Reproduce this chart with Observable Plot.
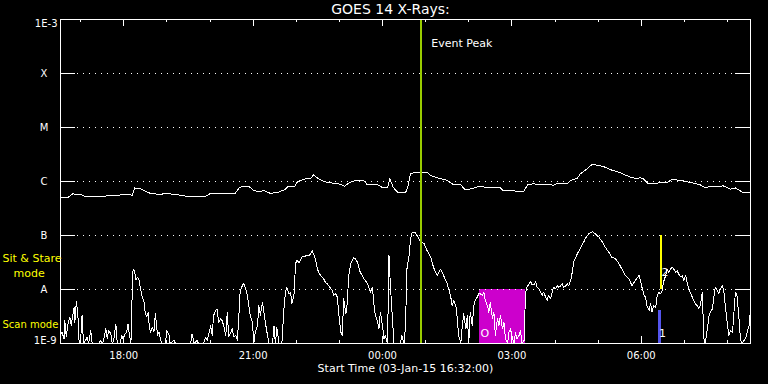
<!DOCTYPE html>
<html><head><meta charset="utf-8">
<script src="https://cdn.jsdelivr.net/npm/d3@7"></script>
<script src="https://cdn.jsdelivr.net/npm/@observablehq/plot@0.6"></script>
<style>
html,body{margin:0;padding:0;background:#000;}
#chart{width:768px;height:384px;overflow:hidden;}
</style></head><body><div id="chart"></div>
<script>
// ---- data (minutes since start time, log10 flux in W/m^2) ----
const startTime = "2015-01-03T16:32:00Z";
const spanMinutes = 960;
const chartTitle = "GOES 14 X-Rays:";
const xCaption = "Start Time (03-Jan-15 16:32:00)";
const levelValues = [1e-9, 1e-8, 1e-7, 1e-6, 1e-5, 1e-4, 1e-3];
const levelLabels = ["1E-9", "A", "B", "C", "M", "X", "1E-3"];
const majorTickTimes = ["2015-01-03T18:00:00Z", "2015-01-03T21:00:00Z", "2015-01-04T00:00:00Z", "2015-01-04T03:00:00Z", "2015-01-04T06:00:00Z"];
const majorTickLabels = ["18:00", "21:00", "00:00", "03:00", "06:00"];

// long channel (1-8 A)
const longChannel = [[0,-6.29],[11,-6.29],[17,-6.23],[28,-6.24],[35,-6.28],[56,-6.28],[70,-6.26],[83,-6.25],[97,-6.24],[100,-6.26],
[103,-6.12],[110,-6.13],[120,-6.19],[125,-6.22],[139,-6.24],[146,-6.22],[160,-6.24],[174,-6.27],[202,-6.27],[209,-6.22],
[243,-6.22],[249,-6.11],[255,-6.09],[262,-6.09],[269,-6.17],[278,-6.19],[282,-6.16],[292,-6.22],[303,-6.20],[312,-6.15],
[317,-6.09],[326,-6.09],[330,-6.00],[341,-5.95],[348,-5.94],[352,-5.88],[358,-5.94],[366,-6.00],[383,-6.04],[390,-6.05],
[395,-6.09],[402,-6.02],[408,-5.99],[422,-5.99],[427,-6.06],[441,-6.06],[449,-6.12],[455,-6.12],[458,-5.95],[463,-6.11],
[469,-6.20],[480,-6.21],[483,-6.11],[487,-5.86],[491,-5.84],[511,-5.84],[515,-5.89],[526,-5.94],[538,-5.98],[547,-6.06],
[557,-6.06],[562,-6.14],[570,-6.14],[580,-6.10],[589,-6.10],[598,-6.12],[612,-6.12],[616,-6.17],[630,-6.17],[636,-6.19],
[644,-6.19],[650,-6.06],[658,-6.04],[664,-6.06],[682,-6.06],[686,-6.07],[691,-6.04],[705,-6.04],[710,-5.98],[719,-5.94],
[723,-5.86],[733,-5.76],[740,-5.68],[747,-5.70],[755,-5.72],[765,-5.78],[779,-5.84],[793,-5.92],[803,-5.95],[806,-5.93],
[811,-5.95],[817,-6.03],[831,-6.03],[835,-6.01],[845,-6.01],[851,-5.96],[863,-5.98],[877,-6.02],[890,-6.06],[897,-6.12],
[904,-6.09],[918,-6.09],[922,-6.08],[932,-6.14],[939,-6.12],[949,-6.20],[960,-6.21]];

// short channel (0.5-4 A); -9 = at/below 1E-9
const shortChannel = [[0,-8.85],[2,-8.79],[5,-8.91],[6,-8.58],[8,-8.88],[10,-8.67],[13,-8.51],[15,-8.67],[17,-8.48],[19,-8.33],
[20,-8.61],[22,-8.22],[24,-8.42],[26,-9],[28,-8.94],[30,-8.48],[32,-9],[35,-8.94],[37,-8.88],[39,-9],
[42,-8.76],[44,-9],[53,-9],[56,-8.94],[58,-9],[60,-8.94],[63,-8.73],[65,-8.91],[67,-8.76],[70,-8.82],
[72,-9],[74,-8.94],[77,-8.64],[79,-9],[83,-9],[85,-8.85],[87,-8.91],[90,-8.82],[92,-8.79],[94,-8.64],
[96,-8.85],[98,-9],[99,-8.39],[101,-7.62],[103,-7.65],[105,-7.83],[107,-7.77],[109,-7.80],[110,-7.89],[112,-8.02],
[114,-8.17],[116,-8.20],[118,-8.45],[120,-8.51],[122,-8.42],[123,-8.61],[125,-8.79],[128,-8.70],[130,-8.79],[132,-8.45],
[135,-8.85],[137,-8.79],[139,-8.91],[141,-9],[146,-9],[148,-8.76],[151,-8.85],[152,-9],[158,-8.94],[160,-9],
[181,-9],[183,-8.82],[186,-9],[190,-8.94],[192,-9],[199,-9],[202,-8.88],[204,-8.94],[206,-8.85],[209,-8.67],
[211,-8.85],[213,-8.48],[216,-8.39],[218,-8.36],[220,-8.61],[223,-8.54],[225,-8.58],[227,-8.67],[230,-8.85],[232,-8.42],
[234,-8.88],[237,-8.79],[239,-8.73],[241,-8.88],[244,-8.85],[246,-8.94],[248,-8.54],[250,-8.02],[253,-7.93],[255,-7.88],
[257,-7.96],[260,-8.11],[262,-8.30],[264,-8.48],[267,-8.61],[269,-9],[271,-8.79],[274,-8.67],[276,-8.30],[278,-8.48],
[281,-8.24],[283,-8.42],[285,-8.61],[288,-8.85],[290,-9],[295,-9],[297,-8.67],[299,-9],[301,-8.70],[304,-9],
[308,-9],[311,-8.33],[313,-8.05],[315,-7.96],[318,-8.08],[320,-8.05],[322,-8.26],[325,-8.08],[327,-7.52],[329,-7.46],
[332,-7.50],[334,-7.46],[336,-7.40],[341,-7.38],[343,-7.36],[346,-7.37],[348,-7.34],[350,-7.28],[353,-7.37],[355,-7.46],
[357,-7.59],[359,-7.68],[362,-7.74],[364,-7.77],[366,-7.80],[369,-7.88],[371,-7.89],[373,-7.93],[376,-7.98],[378,-8.02],
[380,-8.11],[383,-8.08],[385,-8.14],[387,-8.42],[390,-8.79],[392,-8.85],[394,-8.17],[397,-8.45],[399,-8.24],[401,-7.74],
[404,-7.52],[406,-7.46],[408,-7.41],[410,-7.43],[413,-7.49],[415,-7.59],[417,-7.68],[420,-7.74],[422,-7.80],[424,-7.83],
[427,-7.89],[429,-7.96],[431,-8.05],[434,-7.96],[436,-8.26],[438,-8.48],[441,-8.58],[443,-8.73],[445,-8.42],[448,-8.67],
[450,-8.91],[452,-8.85],[455,-9],[457,-7.37],[459,-7.93],[461,-8.36],[464,-9],[473,-9],[475,-8.85],[478,-9],
[480,-8.67],[482,-7.62],[485,-7.37],[487,-7.06],[489,-6.95],[493,-6.94],[496,-7.00],[501,-7.12],[506,-7.15],[510,-7.28],
[515,-7.40],[519,-7.59],[524,-7.74],[529,-7.62],[533,-7.74],[538,-7.89],[540,-7.99],[543,-8.14],[545,-8.30],[547,-8.20],
[550,-8.30],[552,-8.54],[554,-8.85],[557,-9],[559,-8.67],[561,-8.45],[564,-8.73],[566,-8.48],[568,-9],[570,-8.42],
[573,-8.67],[575,-8.30],[577,-8.20],[580,-8.14],[582,-8.08],[584,-8.08],[587,-8.11],[589,-8.05],[591,-8.20],[594,-8.30],
[596,-8.42],[598,-8.24],[601,-8.54],[603,-8.42],[605,-8.85],[608,-8.54],[610,-8.67],[612,-8.48],[615,-8.73],[617,-8.61],
[619,-8.91],[622,-9],[624,-8.79],[626,-8.73],[628,-8.85],[631,-9],[633,-8.79],[635,-8.91],[638,-8.85],[640,-8.76],
[642,-9],[645,-8.94],[647,-8.05],[649,-7.96],[652,-7.89],[654,-7.85],[656,-7.91],[659,-7.91],[661,-7.85],[663,-7.96],
[666,-7.99],[668,-8.05],[670,-8.11],[672,-8.05],[675,-8.14],[677,-8.20],[679,-8.11],[682,-8.17],[684,-8.05],[686,-7.96],
[689,-7.99],[691,-7.93],[693,-7.96],[696,-7.93],[698,-7.89],[700,-7.96],[703,-7.93],[705,-7.89],[707,-7.93],[710,-7.83],
[712,-7.68],[714,-7.49],[719,-7.34],[724,-7.22],[728,-7.12],[730,-7.06],[735,-6.97],[740,-6.93],[744,-6.97],[749,-7.03],
[754,-7.12],[758,-7.22],[763,-7.31],[767,-7.40],[772,-7.43],[777,-7.52],[781,-7.62],[786,-7.74],[791,-7.80],[795,-7.93],
[800,-7.83],[805,-7.74],[807,-7.83],[809,-7.96],[812,-8.11],[814,-8.14],[816,-8.30],[819,-8.39],[821,-8.26],[823,-8.42],
[825,-8.30],[828,-8.33],[830,-8.14],[832,-8.05],[835,-8.08],[837,-8.02],[839,-7.86],[842,-7.74],[844,-7.62],[846,-7.68],
[849,-7.62],[851,-7.59],[853,-7.62],[856,-7.68],[858,-7.65],[860,-7.71],[863,-7.77],[865,-7.74],[867,-7.83],[870,-7.74],
[872,-7.89],[874,-7.99],[876,-8.05],[879,-8.14],[881,-8.20],[883,-8.26],[886,-8.30],[888,-8.36],[890,-8.30],[893,-8.05],
[895,-8.91],[897,-9],[900,-8.73],[902,-8.51],[904,-8.42],[907,-8.36],[909,-8.14],[911,-7.96],[914,-8.02],[916,-8.08],
[918,-7.99],[921,-7.93],[923,-8.05],[925,-8.30],[928,-8.67],[930,-8.85],[932,-8.76],[935,-8.79],[937,-8.42],[939,-8.05],
[941,-8.08],[944,-8.54],[946,-8.91],[948,-9],[953,-8.91],[958,-8.67],[960,-8.36]];

// annotations
const eventPeakTime = "2015-01-04T00:54:00Z";
const eventPeakLabel = "Event Peak";
const scanWindow = {start: "2015-01-04T02:15:00Z", end: "2015-01-04T03:19:00Z", low: 1e-9, high: 1e-8};
const stareMarkTime = "2015-01-04T06:27:00Z";
const stareMarkRange = [1e-8, 1e-7];
const scanMarkTime = "2015-01-04T06:25:30Z";
const scanMarkRange = [1e-9, 4.1e-9];
const markerTimes = ["2015-01-04T02:22:30Z", "2015-01-04T06:29:30Z", "2015-01-04T06:33:00Z"];
const markerValues = [1.55e-9, 1.55e-9, 2.05e-8];
const markerTexts = ["O", "1", "2"];
const modeLabels = ["Sit & Stare", "mode", "Scan mode"];
const modeLabelValues = [3.7e-8, 2.0e-8, 2.25e-9];
const modeLabelIndent = [0, 11, 0];
const modeLabelSize = [11, 11, 10];

// ---- build ----
const t0 = new Date(startTime);
const toDate = m => new Date(t0.getTime() + m * 60000);
const t1 = toDate(spanMinutes);
const longData = longChannel.map(([m, l]) => ({t: toDate(m), v: Math.pow(10, l)}));
const shortData = shortChannel.map(([m, l]) => ({t: toDate(m), v: Math.pow(10, l)}));
const hourTicks = d3.utcHour.range(t0, t1);
const majors = majorTickTimes.map(d => new Date(d));
const W = "#ffffff";
const font = "DejaVu Sans";
const crisp = {shapeRendering: "crispEdges"};

const chart = Plot.plot({
  width: 768, height: 384,
  marginLeft: 60, marginRight: 18, marginTop: 19, marginBottom: 41,
  style: {background: "#000", color: W, fontFamily: font},
  x: {type: "utc", domain: [t0, t1], axis: null},
  y: {type: "log", domain: [1e-9, 1e-3], axis: null},
  marks: [
    Plot.rect([scanWindow], {x1: d => new Date(d.start), x2: d => new Date(d.end), y1: "low", y2: "high", fill: "#cc00cc"}),
    Plot.ruleY(levelValues.slice(1, -1), {stroke: W, strokeDasharray: "1 5", insetLeft: 17, insetRight: 15, ...crisp}),
    Plot.tickY(levelValues, {stroke: W, insetRight: 675, ...crisp}),
    Plot.tickY(levelValues, {stroke: W, insetLeft: 675, ...crisp}),
    Plot.tickX(hourTicks, {stroke: W, insetTop: 321, ...crisp}),
    Plot.tickX(hourTicks, {stroke: W, insetBottom: 321, ...crisp}),
    Plot.tickX(majors, {stroke: W, insetTop: 317, ...crisp}),
    Plot.tickX(majors, {stroke: W, insetBottom: 317, ...crisp}),
    Plot.line(longData, {x: "t", y: "v", stroke: W, strokeWidth: 1, ...crisp}),
    Plot.line(shortData, {x: "t", y: "v", stroke: W, strokeWidth: 1, clip: true, ...crisp}),
    Plot.ruleX([new Date(eventPeakTime)], {stroke: "#99cc00", strokeWidth: 2, ...crisp}),
    Plot.ruleX([new Date(stareMarkTime)], {y1: stareMarkRange[0], y2: stareMarkRange[1], stroke: "#ffff00", strokeWidth: 2, ...crisp}),
    Plot.ruleX([new Date(scanMarkTime)], {y1: scanMarkRange[0], y2: scanMarkRange[1], stroke: "#5555ee", strokeWidth: 3, ...crisp}),
    Plot.text(markerTexts, {x: (d, i) => new Date(markerTimes[i]), y: (d, i) => markerValues[i], text: d => d, fill: W, fontSize: 11}),
    Plot.frame({stroke: W, ...crisp}),
    // y labels
    Plot.text(levelValues.slice(1, -1), {y: d => d, text: (d, i) => levelLabels[i + 1], frameAnchor: "left", lineAnchor: "middle", dx: -16.5, textAnchor: "middle", fill: W, fontSize: 10}),
    Plot.text([levelValues[0]], {y: d => d, text: [levelLabels[0]], frameAnchor: "left", lineAnchor: "middle", dx: -4, dy: -2.5, textAnchor: "end", fill: W, fontSize: 10}),
    Plot.text([levelValues[6]], {y: d => d, text: [levelLabels[6]], frameAnchor: "left", lineAnchor: "middle", dx: -3, dy: 4, textAnchor: "end", fill: W, fontSize: 10}),
    // mode labels (outside the frame, left)
    ...modeLabels.map((label, i) => Plot.text([label], {y: () => modeLabelValues[i], text: d => d, frameAnchor: "left", lineAnchor: "middle", dx: -58 + modeLabelIndent[i], textAnchor: "start", fill: "#ffff00", fontSize: modeLabelSize[i]})),
    // x labels
    Plot.text(majors, {x: d => d, text: (d, i) => majorTickLabels[i], frameAnchor: "bottom", lineAnchor: "middle", dy: 12, fill: W, fontSize: 10}),
    Plot.text([xCaption], {frameAnchor: "bottom", lineAnchor: "middle", dy: 24.5, fill: W, fontSize: 11}),
    Plot.text([chartTitle], {frameAnchor: "top", lineAnchor: "middle", dy: -9.5, dx: -15, fill: W, fontSize: 14}),
    Plot.text([eventPeakLabel], {x: () => new Date(eventPeakTime), frameAnchor: "top", lineAnchor: "middle", dy: 24, dx: 10, textAnchor: "start", fill: W, fontSize: 11})
  ]
});
document.getElementById("chart").appendChild(chart);
</script></body></html>
